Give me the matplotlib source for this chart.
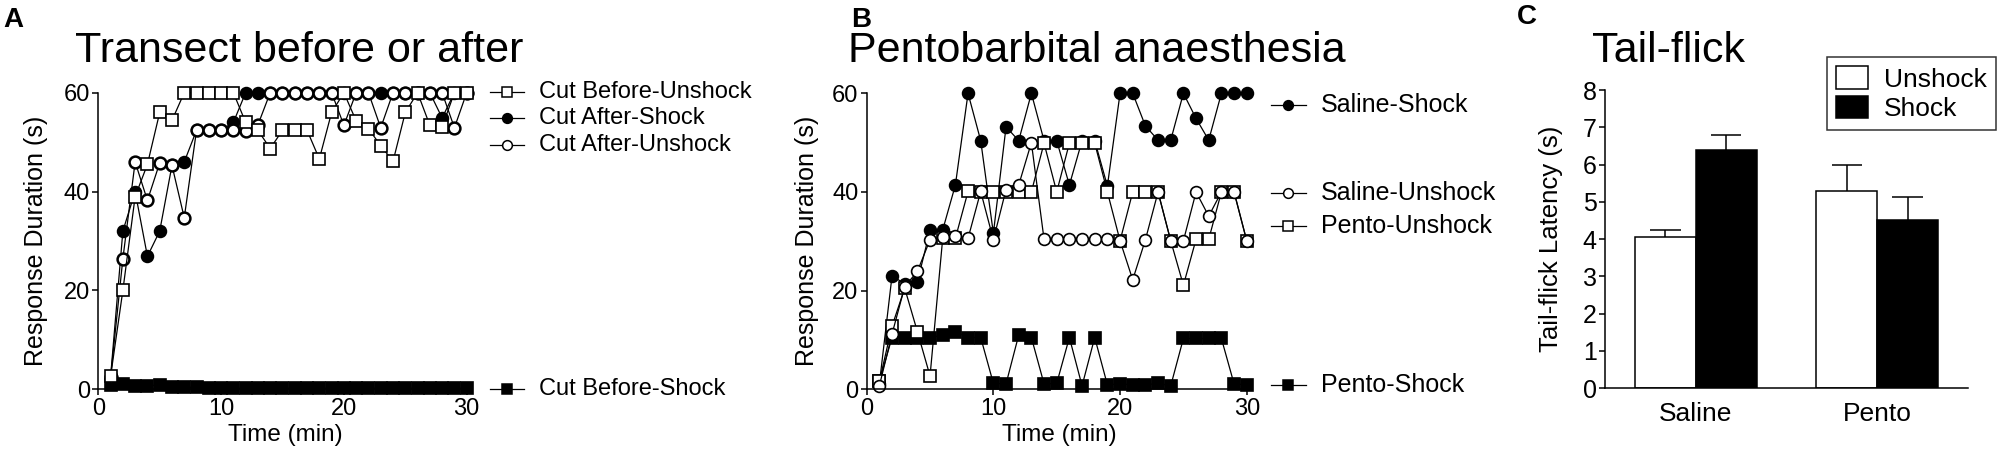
#Three panel figure: response duration curves (A, B) and tail-flick latency bars (C)
import numpy as np
import matplotlib
matplotlib.use('Agg')
import matplotlib.pyplot as plt
from matplotlib.patches import Patch
from matplotlib.transforms import blended_transform_factory

plt.rcParams['font.family'] = ['Liberation Sans', 'DejaVu Sans']

#Data panel A (Transect before or after)
time_a = list(range(1, 31))
cut_before_unshock = [2.6, 20, 39, 45.5, 56, 54.4, 60, 60, 60, 60, 60, 54, 52.4, 48.7, 52.4,
                      52.4, 52.4, 46.6, 56, 60, 54.3, 52.7, 49.3, 46.1, 56, 60, 53.4, 53.1, 60, 60]
cut_after_shock = [2.5, 32, 40, 26.9, 32, 45.3, 46, 52.4, 52.4, 52.4, 54, 60, 60, 60, 60,
                   60, 60, 60, 60, 60, 60, 60, 60, 60, 60, 60, 60, 54.9, 60, 60]
cut_after_unshock = [2.5, 26.4, 46, 38.2, 45.8, 45.3, 34.7, 52.4, 52.4, 52.4, 52.4, 52.2, 53.5, 60, 60,
                     60, 60, 60, 60, 53.4, 60, 60, 52.9, 60, 60, 60, 60, 60, 52.9, 60]
cut_before_shock = [0.9, 1.1, 0.7, 0.7, 0.9, 0.5, 0.4, 0.4, 0.2, 0.2, 0.2, 0.2, 0.2, 0.2, 0.2,
                    0.2, 0.2, 0.2, 0.2, 0.2, 0.2, 0.2, 0.2, 0.2, 0.2, 0.2, 0.2, 0.2, 0.2, 0.2]

#Data panel B (Pentobarbital anaesthesia)
time_b = list(range(1, 31))
saline_shock = [1.1, 23, 21.4, 21.8, 32.2, 32.3, 41.4, 60, 50.4, 31.6, 53.2, 50.4, 60, 50.4, 50.4,
                41.4, 50.4, 50.4, 41.2, 60, 60, 53.4, 50.5, 50.5, 60, 54.9, 50.5, 60, 60, 60]
saline_unshock = [0.7, 11.2, 20.8, 23.9, 30.3, 30.9, 31.1, 30.6, 40.1, 30.3, 40.5, 41.4, 50, 30.4, 30.4,
                  30.4, 30.4, 30.4, 30.4, 30.1, 22.2, 30.3, 40, 30.1, 30.1, 40, 35.1, 40, 40, 30.1]
pento_unshock = [1.6, 12.8, 20.5, 11.7, 2.7, 30.6, 30.6, 40.1, 40, 40, 40, 40, 40, 49.9, 40,
                 49.9, 49.9, 49.9, 40, 30.1, 40, 40, 40, 30.1, 21.1, 30.4, 30.4, 40, 40, 30.1]
pento_shock = [1.6, 10.5, 10.5, 10.5, 10.5, 11, 11.7, 10.5, 10.5, 1.2, 1.1, 11, 10.5, 1.1, 1.2,
               10.5, 0.7, 10.5, 0.9, 1.1, 0.9, 0.9, 1.2, 0.7, 10.3, 10.3, 10.3, 10.3, 1.1, 0.9]

#Data panel C (Tail-flick)
groups = ['Saline', 'Pento']
unshock_mean = [4.05, 5.29]
unshock_sem = [0.18, 0.70]
shock_mean = [6.39, 4.50]
shock_sem = [0.39, 0.63]

W, H = 2000, 459
fig = plt.figure(figsize=(W/100, H/100), dpi=100)

def px_axes(left, right, bottom, top):
    # axes box given in pixel coordinates measured from the top left corner
    return fig.add_axes([left/W, (H-bottom)/H, (right-left)/W, (bottom-top)/H])

def style_axes(ax, tick_fs):
    for s in ['top', 'right']:
        ax.spines[s].set_visible(False)
    for s in ['left', 'bottom']:
        ax.spines[s].set_linewidth(1.1)
    ax.tick_params(direction='out', length=4, width=1.1, labelsize=tick_fs, pad=2)

def series(ax, x, y, marker, filled, ms=8.5, mew=1.2):
    ax.plot(x, y, color='k', lw=0.9, marker=marker, ms=ms, mew=mew,
            mfc='k' if filled else 'white', mec='k', clip_on=False)

def side_legend(ax, entries, fs):
    tr = blended_transform_factory(ax.transAxes, ax.transData)
    for label, ypos, marker, filled in entries:
        ax.plot([1.049, 1.14], [ypos, ypos], color='k', lw=0.9, transform=tr, clip_on=False)
        ax.plot([1.094], [ypos], marker=marker, ms=7, mew=1.1, mec='k',
                mfc='k' if filled else 'white', transform=tr, clip_on=False)
        ax.text(1.18, ypos, label, fontsize=fs, va='center', ha='left', transform=tr)

#Panel A
axA = px_axes(98.3, 471.6, 389.3, 92.7)
series(axA, time_a, cut_before_shock, 's', True)
series(axA, time_a, cut_after_shock, 'o', True)
series(axA, time_a, cut_after_unshock, 'o', False, mew=1.8)
series(axA, time_a, cut_before_unshock, 's', False)
axA.set_xlim(0, 30.4)
axA.set_ylim(0, 60)
axA.set_xticks([0, 10, 20, 30])
axA.set_yticks([0, 20, 40, 60])
style_axes(axA, 17)
axA.set_xlabel('Time (min)', fontsize=17.5, labelpad=3)
axA.set_ylabel('Response Duration (s)', fontsize=18)
axA.yaxis.set_label_coords(-0.135, 0.5)
side_legend(axA, [('Cut Before-Unshock', 60.2, 's', False),
                  ('Cut After-Shock', 54.8, 'o', True),
                  ('Cut After-Unshock', 49.4, 'o', False),
                  ('Cut Before-Shock', 0, 's', True)], 17)
fig.text(75/W, 1-62/H, 'Transect before or after', fontsize=31, ha='left', va='baseline')

#Panel B
axB = px_axes(866.7, 1251.8, 389.3, 93.3)
series(axB, time_b, pento_shock, 's', True)
series(axB, time_b, saline_shock, 'o', True)
series(axB, time_b, pento_unshock, 's', False)
series(axB, time_b, saline_unshock, 'o', False)
axB.set_xlim(0, 30.4)
axB.set_ylim(0, 60)
axB.set_xticks([0, 10, 20, 30])
axB.set_yticks([0, 20, 40, 60])
style_axes(axB, 17)
axB.set_xlabel('Time (min)', fontsize=17.5, labelpad=3)
axB.set_ylabel('Response Duration (s)', fontsize=18)
axB.yaxis.set_label_coords(-0.125, 0.5)
side_legend(axB, [('Saline-Shock', 57.6, 'o', True),
                  ('Saline-Unshock', 39.7, 'o', False),
                  ('Pento-Unshock', 33.1, 's', False),
                  ('Pento-Shock', 0.9, 's', True)], 18)
fig.text(848/W, 1-62/H, 'Pentobarbital anaesthesia', fontsize=31, ha='left', va='baseline')

#Panel C
axC = px_axes(1605, 1968, 388, 90)
xpos = np.arange(len(groups))
bw = 0.335
axC.bar(xpos - bw/2, unshock_mean, bw, color='white', edgecolor='k', lw=1.1, zorder=2)
axC.bar(xpos + bw/2, shock_mean, bw, color='k', edgecolor='k', lw=1.1, zorder=2)
for xc, m, e in [(xpos - bw/2, unshock_mean, unshock_sem), (xpos + bw/2, shock_mean, shock_sem)]:
    top = np.array(m) + np.array(e)
    axC.vlines(xc, m, top, color='k', lw=1.1, zorder=3)
    axC.hlines(top, xc - bw/4, xc + bw/4, color='k', lw=1.1, zorder=3)
axC.set_xlim(-0.5, 1.5)
axC.set_ylim(0, 8)
axC.set_yticks(range(0, 9))
axC.set_xticks(xpos)
axC.set_xticklabels(groups)
style_axes(axC, 18)
axC.tick_params(axis='x', length=0, pad=10, labelsize=19)
axC.set_ylabel('Tail-flick Latency (s)', fontsize=18.5)
axC.yaxis.set_label_coords(-0.115, 0.5)
leg = axC.legend(handles=[Patch(facecolor='white', edgecolor='k', lw=1.1, label='Unshock'),
                          Patch(facecolor='k', edgecolor='k', lw=1.1, label='Shock')],
                 loc='upper right', bbox_to_anchor=(1.077, 1.111), fontsize=19,
                 frameon=True, fancybox=False, handlelength=1.2, handleheight=0.95,
                 handletextpad=0.6, borderpad=0.35, labelspacing=0.15, borderaxespad=0)
leg.get_frame().set_edgecolor('k')
leg.get_frame().set_linewidth(1.1)
fig.text(1592/W, 1-62/H, 'Tail-flick', fontsize=31, ha='left', va='baseline')

#Panel letters
fig.text(3/W, 1-7/H, 'A', fontsize=20, fontweight='bold', va='top')
fig.text(851/W, 1-7/H, 'B', fontsize=20, fontweight='bold', va='top')
fig.text(1517/W, 1-4/H, 'C', fontsize=20, fontweight='bold', va='top')

fig.savefig('out.png', dpi=100)
